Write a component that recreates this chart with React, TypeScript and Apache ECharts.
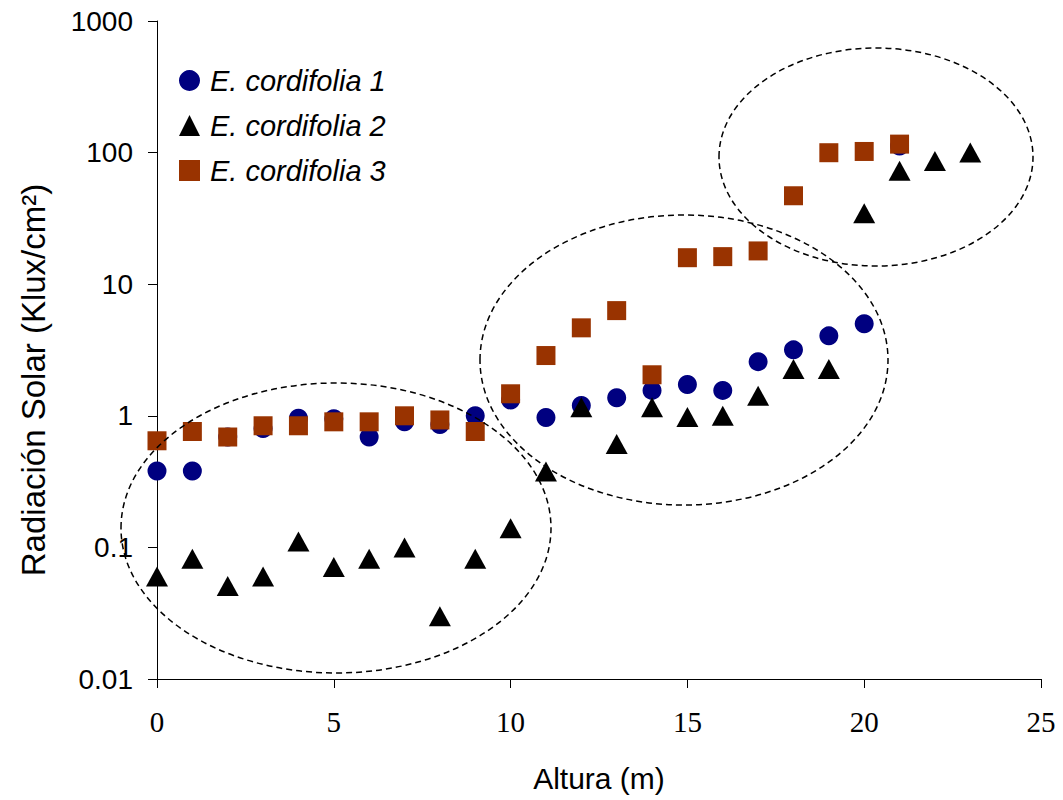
import React, { useEffect, useRef } from "react";
import * as echarts from "echarts";

const heights1 = [0, 1, 2, 3, 4, 5, 6, 7, 8, 9, 10, 11, 12, 13, 14, 15, 16, 17, 18, 19, 20, 21];
const cordifolia1 = [0.38, 0.38, 0.69, 0.8, 0.96, 0.95, 0.69, 0.9, 0.86, 1.0, 1.32, 0.97, 1.2, 1.37, 1.56, 1.73, 1.56, 2.58, 3.17, 4.05, 5.0, 112];

const heights2 = [0, 1, 2, 3, 4, 5, 6, 7, 8, 9, 10, 11, 12, 13, 14, 15, 16, 17, 18, 19, 20, 21, 22, 23];
const cordifolia2 = [0.06, 0.082, 0.051, 0.06, 0.111, 0.071, 0.082, 0.1, 0.03, 0.082, 0.14, 0.377, 1.16, 0.61, 1.16, 0.98, 1.0, 1.42, 2.27, 2.27, 34.6, 72.7, 86.5, 100];

const heights3 = [0, 1, 2, 3, 4, 5, 6, 7, 8, 9, 10, 11, 12, 13, 14, 15, 16, 17, 18, 19, 20, 21];
const cordifolia3 = [0.646, 0.76, 0.69, 0.84, 0.84, 0.9, 0.9, 1.0, 0.93, 0.76, 1.47, 2.87, 4.66, 6.3, 2.05, 15.9, 16.2, 17.9, 47, 99.8, 102, 116];

const seriesNames = ["E. cordifolia 1", "E. cordifolia 2", "E. cordifolia 3"];
const yTickLabels: Record<string, string> = { "0.01": "0.01", "0.1": "0.1", "1": "1", "10": "10", "100": "100", "1000": "1000" };
const xAxisTitle = "Altura (m)";
const yAxisTitle = "Radiación Solar (Klux/cm²)";

function pairs(xs: number[], ys: number[]) {
  return xs.map((x, i) => [x, ys[i]]);
}

export default function App() {
  const ref = useRef<HTMLDivElement>(null);
  useEffect(() => {
    if (!ref.current) return;
    const chart = echarts.init(ref.current, null, { renderer: "svg" });
    const dash = { fill: "none", stroke: "#000", lineWidth: 1.5, lineDash: [6, 4] };
    chart.setOption({
      animation: false,
      backgroundColor: "#fff",
      grid: { left: 157, right: 22, top: 21, bottom: 121 },
      legend: {
        orient: "vertical",
        left: 174,
        top: 61,
        itemGap: 16,
        itemWidth: 21,
        itemHeight: 21,
        data: seriesNames,
        textStyle: { fontStyle: "italic", fontSize: 29, fontFamily: "Liberation Sans", color: "#000", padding: [0, 0, 0, 5] },
      },
      xAxis: {
        type: "value",
        min: 0,
        max: 25,
        interval: 5,
        name: xAxisTitle,
        nameLocation: "middle",
        nameGap: 84,
        nameTextStyle: { fontFamily: "Liberation Sans", fontSize: 30, color: "#000" },
        axisLine: { show: true, lineStyle: { color: "#000", width: 1 } },
        axisTick: { show: true, inside: false, length: 9, lineStyle: { color: "#000" } },
        axisLabel: { margin: 28, fontFamily: "Liberation Serif", fontSize: 29, color: "#000" },
        splitLine: { show: false },
      },
      yAxis: {
        type: "log",
        logBase: 10,
        min: 0.01,
        max: 1000,
        axisLine: { show: true, lineStyle: { color: "#000", width: 1 } },
        axisTick: { show: true, inside: false, length: 9, lineStyle: { color: "#000" } },
        axisLabel: {
          margin: 24,
          fontFamily: "Liberation Sans",
          fontSize: 28,
          color: "#000",
          formatter: (v: number) => {
            const key = String(Number(v.toPrecision(3)));
            return yTickLabels[key] ?? key;
          },
        },
        splitLine: { show: false },
      },
      series: [
        {
          name: seriesNames[0],
          type: "scatter",
          symbol: "circle",
          symbolSize: 19,
          itemStyle: { color: "#000080", opacity: 1 },
          data: pairs(heights1, cordifolia1),
          z: 2,
        },
        {
          name: seriesNames[1],
          type: "scatter",
          symbol: "triangle",
          symbolSize: [22, 20],
          itemStyle: { color: "#000", opacity: 1 },
          data: pairs(heights2, cordifolia2),
          z: 3,
        },
        {
          name: seriesNames[2],
          type: "scatter",
          symbol: "rect",
          symbolSize: 19,
          itemStyle: { color: "#993300", opacity: 1 },
          data: pairs(heights3, cordifolia3),
          z: 4,
        },
      ],
      graphic: [
        {
          type: "text",
          x: 33,
          y: 380,
          rotation: Math.PI / 2,
          style: {
            text: yAxisTitle,
            fontFamily: "Liberation Sans",
            fontSize: 33,
            fill: "#000",
            align: "center",
            verticalAlign: "middle",
          },
          silent: true,
        },
        { type: "ellipse", shape: { cx: 336, cy: 528, rx: 215, ry: 145 }, style: dash, z: 100, silent: true },
        { type: "ellipse", shape: { cx: 684, cy: 360, rx: 204, ry: 145 }, style: dash, z: 100, silent: true },
        { type: "ellipse", shape: { cx: 876, cy: 157, rx: 157, ry: 109 }, style: dash, z: 100, silent: true },
      ],
    });
    return () => chart.dispose();
  }, []);
  return <div ref={ref} style={{ width: 1063, height: 800, position: "absolute", left: 0, top: 0 }} />;
}
